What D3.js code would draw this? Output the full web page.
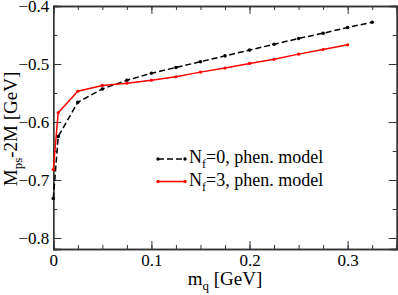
<!DOCTYPE html>
<html>
<head>
<meta charset="utf-8">
<script src="https://cdn.jsdelivr.net/npm/d3@7"></script>
<style>
  body { margin: 0; background: #fff; }
  text { font-family: "Liberation Serif", "Times New Roman", serif; }
</style>
</head>
<body>
<script>
// quark mass (GeV) and M_ps - 2M (GeV)
var mqNf0 = [0, 0.005, 0.025, 0.05, 0.075, 0.1, 0.125, 0.15, 0.175, 0.2, 0.225, 0.25, 0.275, 0.3, 0.325];
var valNf0 = [-0.732, -0.625, -0.566, -0.543, -0.528, -0.516, -0.506, -0.496, -0.486, -0.476, -0.466, -0.456, -0.447, -0.437, -0.428];
var mqNf3 = [0, 0.005, 0.025, 0.05, 0.075, 0.1, 0.125, 0.15, 0.175, 0.2, 0.225, 0.25, 0.275, 0.3];
var valNf3 = [-0.682, -0.584, -0.547, -0.537, -0.533, -0.528, -0.522, -0.514, -0.507, -0.499, -0.492, -0.483, -0.475, -0.467];
var xTicks = [0, 0.1, 0.2, 0.3];
var yTicks = [-0.8, -0.7, -0.6, -0.5, -0.4];
var legendLabels = ["0", "3"];

var W = 398, H = 295;
var svg = d3.select("body").append("svg")
    .attr("width", W)
    .attr("height", H);

// plot box (note: "top" is taken by window.top, so use other names)
var pLeft = 53.3, pRight = 396.7, pTop = 6, pBottom = 249;

var x = d3.scaleLinear().domain([0, 0.35]).range([pLeft, pRight]);
var y = d3.scaleLinear().domain([-0.819, -0.4]).range([pBottom, pTop]);

var xMinor = d3.range(0, 0.351, 0.025);
var yMinor = d3.range(-0.8, -0.399, 0.05);

// frame and ticks
var axes = svg.append("g");
axes.append("g").attr("transform", "translate(0," + pBottom + ")")
    .call(d3.axisBottom(x).tickValues(xMinor).tickSize(-4).tickFormat(""));
axes.append("g").attr("transform", "translate(0," + pBottom + ")")
    .call(d3.axisBottom(x).tickValues(xTicks).tickSize(-8).tickPadding(5)
        .tickFormat(function(d) { return d === 0 ? "0" : d3.format(".1f")(d); }));
axes.append("g").attr("transform", "translate(0," + pTop + ")")
    .call(d3.axisTop(x).tickValues(xMinor).tickSize(-4).tickFormat(""));
axes.append("g").attr("transform", "translate(0," + pTop + ")")
    .call(d3.axisTop(x).tickValues(xTicks).tickSize(-8).tickFormat(""));
axes.append("g").attr("transform", "translate(" + pLeft + ",0)")
    .call(d3.axisLeft(y).tickValues(yMinor).tickSize(-4).tickFormat(""));
axes.append("g").attr("transform", "translate(" + pLeft + ",0)")
    .call(d3.axisLeft(y).tickValues(yTicks).tickSize(-8).tickPadding(4).tickFormat(d3.format(".1f")));
axes.append("g").attr("transform", "translate(" + pRight + ",0)")
    .call(d3.axisRight(y).tickValues(yMinor).tickSize(-4).tickFormat(""));
axes.append("g").attr("transform", "translate(" + pRight + ",0)")
    .call(d3.axisRight(y).tickValues(yTicks).tickSize(-8).tickFormat(""));

axes.selectAll(".domain").attr("stroke", "#333").attr("stroke-width", 1.3);
axes.selectAll(".tick line").attr("stroke", "#333").attr("stroke-width", 1);
axes.selectAll(".tick text").attr("font-size", 17).attr("fill", "#000")
    .attr("font-family", "Liberation Serif, serif");

// series
var line = d3.line()
    .x(function(d) { return x(d[0]); })
    .y(function(d) { return y(d[1]); });

var nf0 = d3.zip(mqNf0, valNf0);
var nf3 = d3.zip(mqNf3, valNf3);

svg.append("path").datum(nf0)
    .attr("d", line)
    .attr("fill", "none")
    .attr("stroke", "black")
    .attr("stroke-width", 1.5)
    .attr("stroke-dasharray", "6,3");
svg.selectAll(".p0").data(nf0).enter().append("circle")
    .attr("cx", function(d) { return x(d[0]); })
    .attr("cy", function(d) { return y(d[1]); })
    .attr("r", 1.8)
    .attr("fill", "black");

svg.append("path").datum(nf3)
    .attr("d", line)
    .attr("fill", "none")
    .attr("stroke", "red")
    .attr("stroke-width", 1.5);
svg.selectAll(".p3").data(nf3).enter().append("circle")
    .attr("cx", function(d) { return x(d[0]); })
    .attr("cy", function(d) { return y(d[1]); })
    .attr("r", 1.6)
    .attr("fill", "red");

// legend
var legend = svg.append("g");
var legColors = ["black", "red"];
var legDash = ["6,3", null];
legendLabels.forEach(function(lab, i) {
    var ly = 159 + i * 22.5;
    legend.append("line")
        .attr("x1", 158).attr("x2", 185)
        .attr("y1", ly).attr("y2", ly)
        .attr("stroke", legColors[i])
        .attr("stroke-width", 1.5)
        .attr("stroke-dasharray", legDash[i]);
    [158, 185].forEach(function(lx) {
        legend.append("circle").attr("cx", lx).attr("cy", ly).attr("r", 1.7).attr("fill", legColors[i]);
    });
    var t = legend.append("text")
        .attr("x", 189)
        .attr("y", ly + 4)
        .attr("font-size", 18)
        .attr("fill", "#000");
    t.append("tspan").text("N");
    t.append("tspan").attr("font-size", 12).attr("dy", 5).text("f");
    t.append("tspan").attr("dy", -5).text("=" + lab + ", phen. model");
});

// axis labels
var xl = svg.append("text")
    .attr("x", (pLeft + pRight) / 2)
    .attr("y", 285)
    .attr("text-anchor", "middle")
    .attr("font-size", 19);
xl.append("tspan").text("m");
xl.append("tspan").attr("font-size", 13).attr("dy", 5).text("q");
xl.append("tspan").attr("dy", -5).text(" [GeV]");

var yl = svg.append("text")
    .attr("transform", "translate(17," + 129 + ") rotate(-90)")
    .attr("text-anchor", "middle")
    .attr("font-size", 19);
yl.append("tspan").text("M");
yl.append("tspan").attr("font-size", 13).attr("dy", 5).text("ps");
yl.append("tspan").attr("dy", -5).text("-2M [GeV]");
</script>
</body>
</html>
